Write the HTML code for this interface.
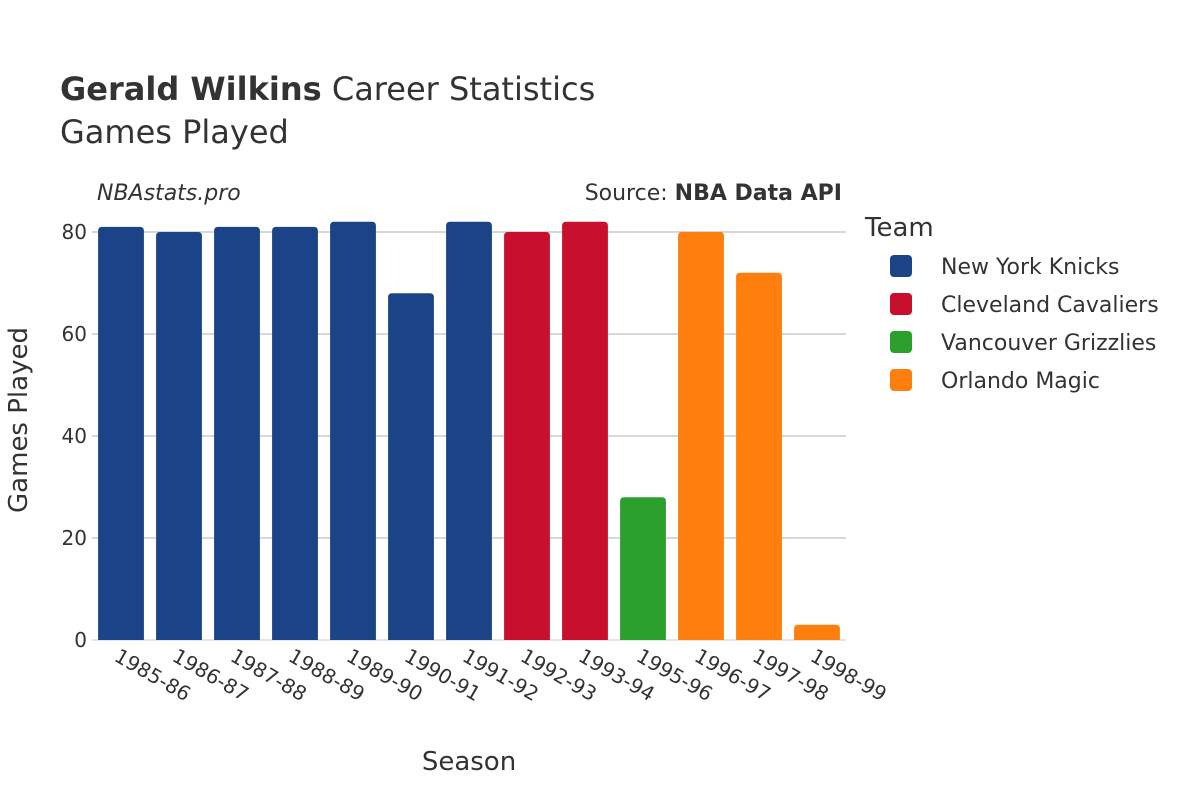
<!DOCTYPE html>
<html><head><meta charset="utf-8"><style>
html,body{margin:0;padding:0;background:#fff;}
svg text{font-family:"DejaVu Sans","Liberation Sans",sans-serif;fill:#333;}
</style></head><body>
<svg id="chart" width="1200" height="800" viewBox="0 0 1200 800" xmlns="http://www.w3.org/2000/svg">
<rect width="1200" height="800" fill="#fff"/>
<text x="60" y="100" font-size="32"><tspan font-weight="bold">Gerald Wilkins</tspan> Career Statistics</text>
<text x="60" y="143" font-size="32">Games Played</text>
<text x="97" y="200" font-size="22" font-style="italic">NBAstats.pro</text>
<text x="842" y="200" font-size="22" text-anchor="end">Source: <tspan font-weight="bold">NBA Data API</tspan></text>
<g id="grid"></g>
<g id="bars"></g>
<g id="xticks"></g>
<g id="yticks"></g>
<text x="469" y="770" font-size="26" text-anchor="middle">Season</text>
<text transform="translate(27,420) rotate(-90)" font-size="26" text-anchor="middle">Games Played</text>
<g id="legend">
<text x="865" y="236" font-size="26">Team</text>
</g>
</svg>
<script>
const seasons=["1985-86","1986-87","1987-88","1988-89","1989-90","1990-91","1991-92","1992-93","1993-94","1995-96","1996-97","1997-98","1998-99"];
const games=[81,80,81,81,82,68,82,80,82,28,80,72,3];
const teams=["NYK","NYK","NYK","NYK","NYK","NYK","NYK","CLE","CLE","VAN","ORL","ORL","ORL"];
const teamNames=["New York Knicks","Cleveland Cavaliers","Vancouver Grizzlies","Orlando Magic"];
const teamKeys=["NYK","CLE","VAN","ORL"];
const yTicks=[0,20,40,60,80];
const colors={NYK:"#1b4387",CLE:"#c8102e",VAN:"#2ca02c",ORL:"#ff7f0e"};
const NS="http://www.w3.org/2000/svg";
const x0=92,x1=846,y0=640,ppu=5.1;
const step=(x1-x0)/seasons.length;
const xc=i=>x0+step*(i+0.5);
const y=v=>y0-v*ppu;
function mk(tag,attrs,parent){const e=document.createElementNS(NS,tag);for(const k in attrs)e.setAttribute(k,attrs[k]);parent.appendChild(e);return e;}
const grid=document.getElementById('grid'),bars=document.getElementById('bars'),xt=document.getElementById('xticks'),yt=document.getElementById('yticks'),lg=document.getElementById('legend');
yTicks.forEach(t=>{
 const l=mk('line',{x1:x0,x2:x1,y1:y(t),y2:y(t),stroke:t===0?'#e5e5e5':'#b0b0b0','stroke-width':t===0?2:1},grid);
 
 
 const tx=mk('text',{x:x0-5,y:y(t)+7,'font-size':20,'text-anchor':'end'},yt);
 tx.textContent=t;
 
 
});
const bw=step*0.79,r=4;
seasons.forEach((s,i)=>{
 const h=games[i]*ppu,bx=xc(i)-bw/2,by=y(games[i]);
 const rr=Math.min(r,h/2);
 const d=`M${bx},${y0}V${by+rr}Q${bx},${by} ${bx+rr},${by}H${bx+bw-rr}Q${bx+bw},${by} ${bx+bw},${by+rr}V${y0}Z`;
 const p=mk('path',{d:d,fill:colors[teams[i]]},bars);
 
 
 const tx=mk('text',{x:0,y:0,'font-size':20,transform:`translate(${xc(i)-8},${y0+20}) rotate(30)`},xt);
 tx.textContent=s;
 
 
});
teamNames.forEach((n,k)=>{
 const cy=266+k*38;
 const rc=mk('rect',{x:890,y:cy-11,width:22,height:22,rx:4,fill:colors[teamKeys[k]]},lg);
 
 
 const tx=mk('text',{x:941,y:cy+8,'font-size':22},lg);
 tx.textContent=n;
 
 
});
</script>
</body></html>
